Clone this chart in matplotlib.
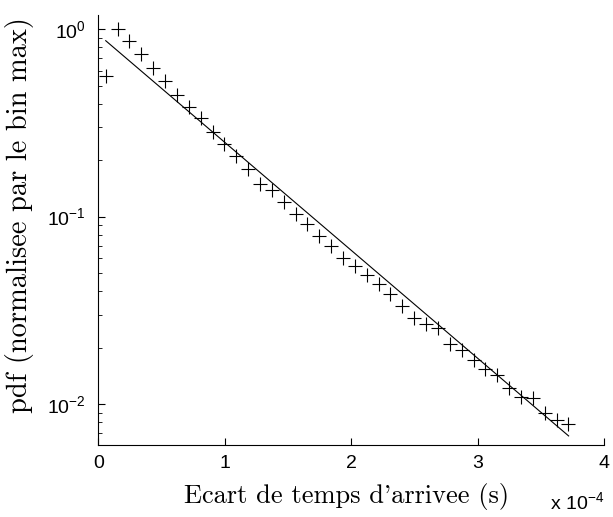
import numpy as np
import matplotlib
matplotlib.use('Agg')
import matplotlib.pyplot as plt
from matplotlib.ticker import FuncFormatter, LogLocator, NullFormatter

plt.rcParams['font.family'] = ['Liberation Sans', 'DejaVu Sans']
plt.rcParams['mathtext.fontset'] = 'custom'
plt.rcParams['mathtext.rm'] = 'Liberation Sans'
plt.rcParams['mathtext.it'] = 'Liberation Sans:italic'
plt.rcParams['mathtext.bf'] = 'Liberation Sans:bold'

# histogram of inter-arrival times (s), normalised by the max bin
x0 = 0.0585e-4
dx = 0.0938e-4
pdf = [0.560, 1.0, 0.871, 0.736, 0.625, 0.530, 0.448, 0.387, 0.335, 0.284,
       0.244, 0.210, 0.180, 0.150, 0.138, 0.119, 0.1036, 0.0916, 0.0788, 0.0701,
       0.0599, 0.0548, 0.0485, 0.0437, 0.0384, 0.0335, 0.0286, 0.0267, 0.0254, 0.0209,
       0.0194, 0.0172, 0.0154, 0.0143, 0.0121, 0.0109, 0.0108, 0.00891, 0.00820, 0.00778]
t = [x0 + i*dx for i in range(len(pdf))]

# exponential fit (straight line on log axis), end points
fit_t = [0.0585e-4, 3.718e-4]
fit_y = [0.869, 0.00675]

fig = plt.figure(figsize=(6.13, 5.17), dpi=100)
ax = fig.add_axes([0.1604, 0.1393, 0.8254, 0.8317])

ax.plot(t, pdf, '+', color='k', ms=10, mew=0.8)
ax.plot(fit_t, fit_y, '-', color='k', lw=0.8)

ax.set_yscale('log')
ax.set_xlim(0, 4e-4)
ax.set_ylim(0.00604, 1.192)

ax.set_xticks([0, 1e-4, 2e-4, 3e-4, 4e-4])
ax.xaxis.set_major_formatter(FuncFormatter(lambda v, p: '%d' % round(v/1e-4)))
ax.yaxis.set_major_locator(LogLocator(base=10))
ax.yaxis.set_minor_locator(LogLocator(base=10, subs=np.arange(2, 10)))
ax.yaxis.set_minor_formatter(NullFormatter())

for s in ['top', 'right']:
    ax.spines[s].set_visible(False)
for s in ['left', 'bottom']:
    ax.spines[s].set_linewidth(0.8)

ax.tick_params(which='major', direction='in', length=5, width=0.8, labelsize=14)
ax.tick_params(axis='x', which='major', pad=7)
ax.tick_params(axis='y', which='major', pad=9)
ax.tick_params(which='minor', direction='in', length=3, width=0.6)

ax.set_xlabel("Ecart de temps d'arrivee (s)", family='cmr10', fontsize=19)
ax.xaxis.set_label_coords(0.49, -0.088)
ax.set_ylabel("pdf (normalisee par le bin max)", family='cmr10', fontsize=20.5)
ax.yaxis.set_label_coords(-0.128, 0.535)

ax.text(1.0, -0.108, r'x 10$^{-4}$', transform=ax.transAxes, fontsize=14,
        ha='right', va='top')

fig.savefig('out.png', dpi=100)
